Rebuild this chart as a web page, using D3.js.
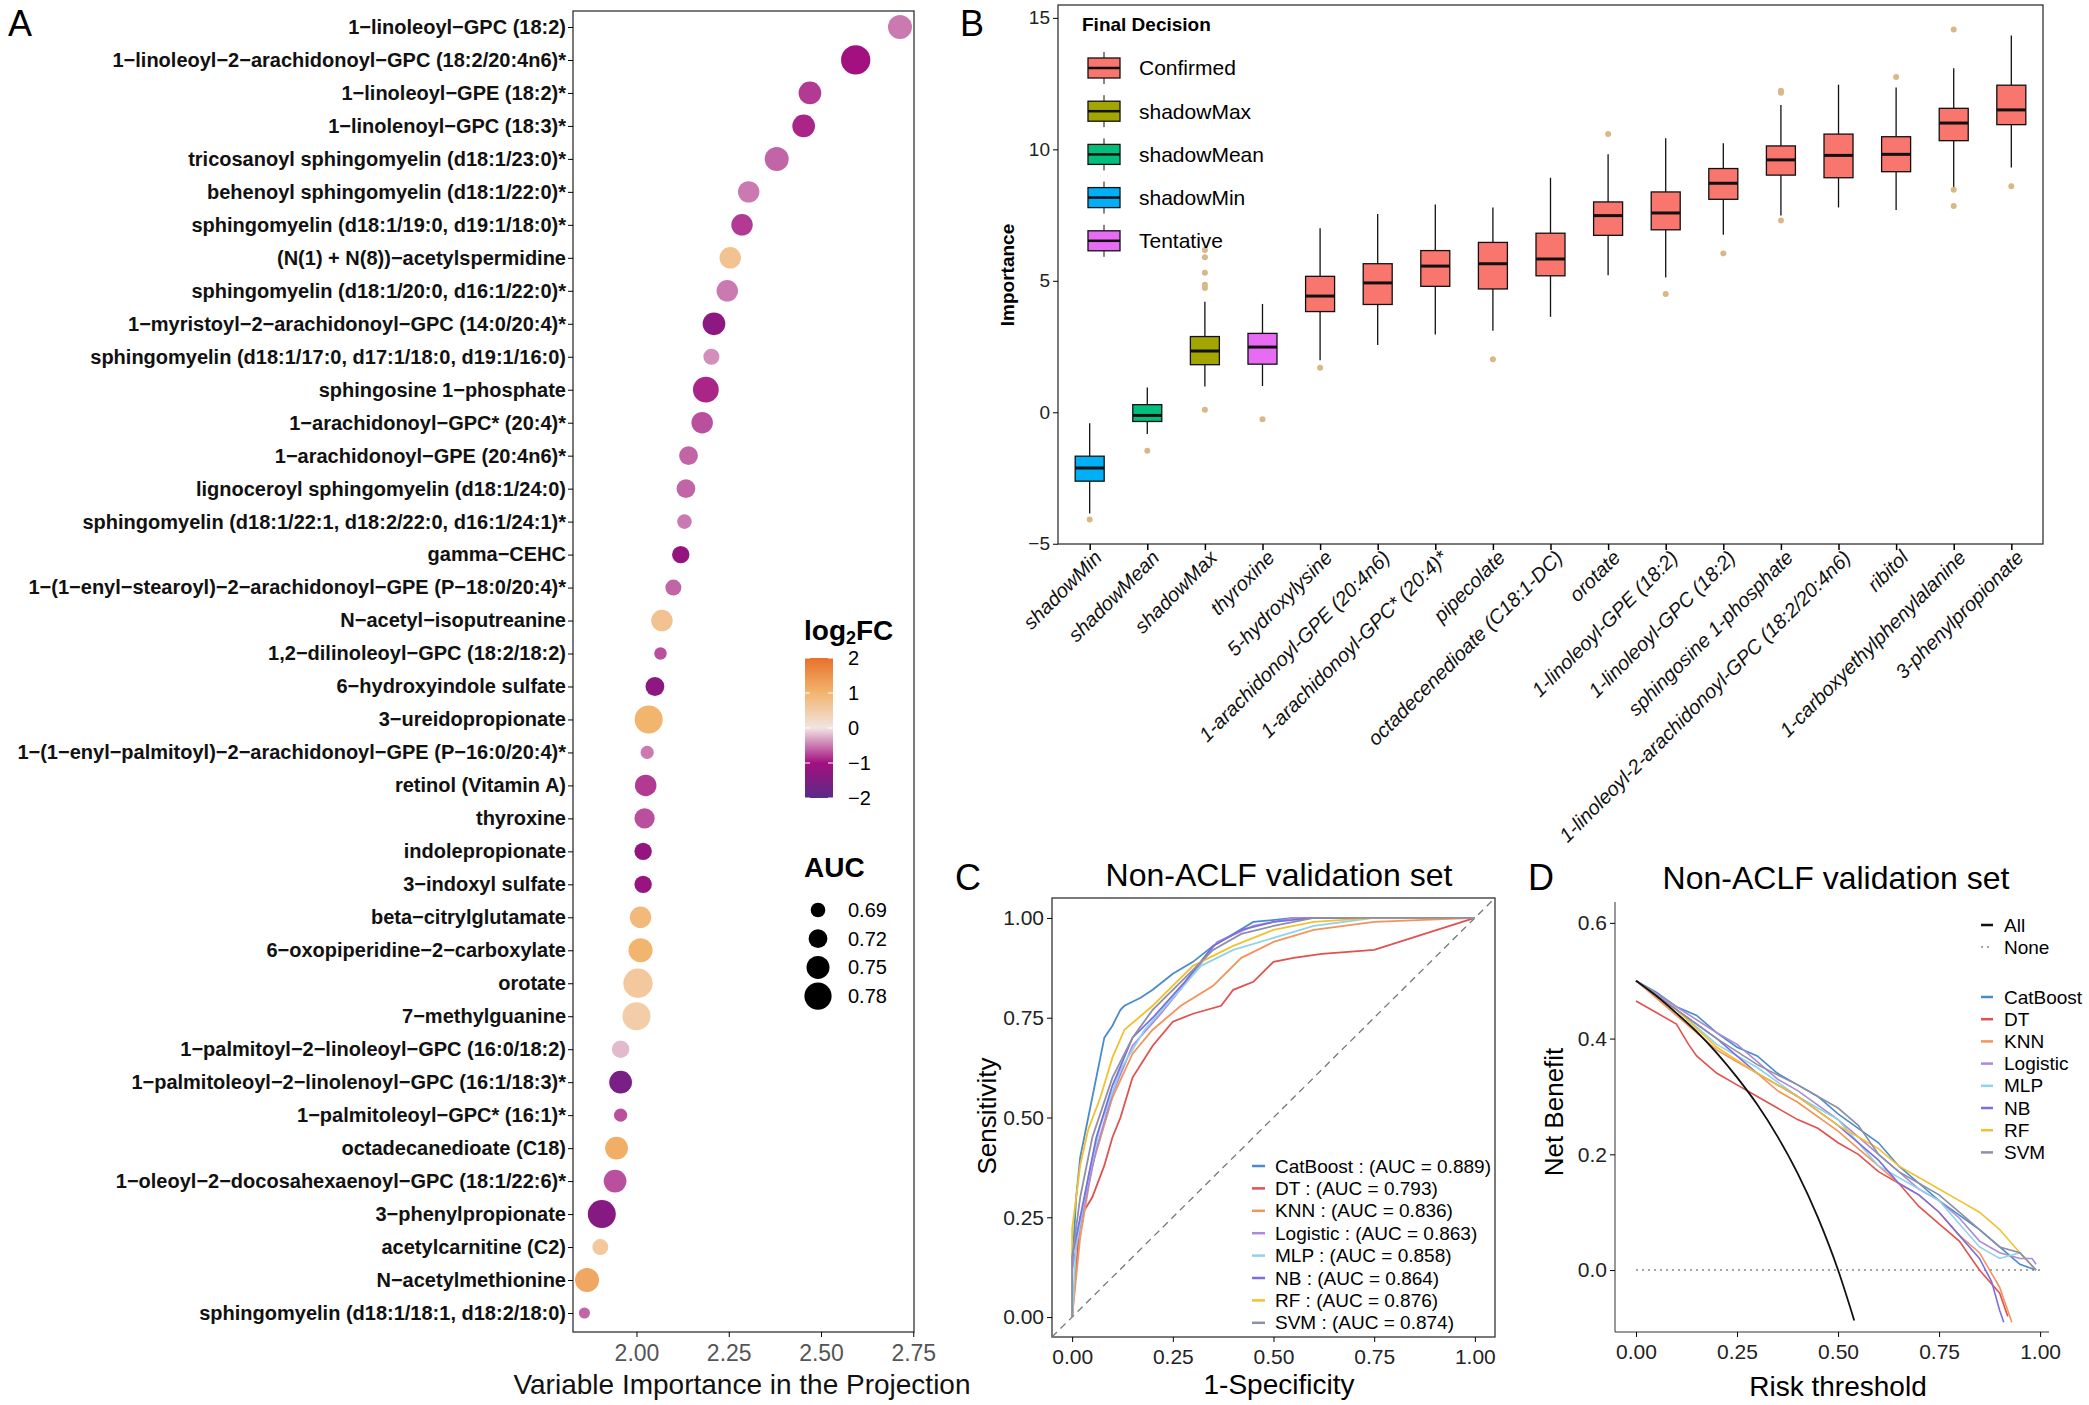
<!DOCTYPE html>
<html><head><meta charset="utf-8">
<script src="https://cdn.jsdelivr.net/npm/d3@7"></script>
<style>body{margin:0;background:#fff}svg{display:block}text{font-family:"Liberation Sans",Arial,sans-serif}</style>
</head><body><svg id="c" width="2089" height="1405"></svg>
<script>
// ---------- Panel A data ----------
const metabolites=["1−linoleoyl−GPC (18:2)","1−linoleoyl−2−arachidonoyl−GPC (18:2/20:4n6)*","1−linoleoyl−GPE (18:2)*","1−linolenoyl−GPC (18:3)*","tricosanoyl sphingomyelin (d18:1/23:0)*","behenoyl sphingomyelin (d18:1/22:0)*","sphingomyelin (d18:1/19:0, d19:1/18:0)*","(N(1) + N(8))−acetylspermidine","sphingomyelin (d18:1/20:0, d16:1/22:0)*","1−myristoyl−2−arachidonoyl−GPC (14:0/20:4)*","sphingomyelin (d18:1/17:0, d17:1/18:0, d19:1/16:0)","sphingosine 1−phosphate","1−arachidonoyl−GPC* (20:4)*","1−arachidonoyl−GPE (20:4n6)*","lignoceroyl sphingomyelin (d18:1/24:0)","sphingomyelin (d18:1/22:1, d18:2/22:0, d16:1/24:1)*","gamma−CEHC","1−(1−enyl−stearoyl)−2−arachidonoyl−GPE (P−18:0/20:4)*","N−acetyl−isoputreanine","1,2−dilinoleoyl−GPC (18:2/18:2)","6−hydroxyindole sulfate","3−ureidopropionate","1−(1−enyl−palmitoyl)−2−arachidonoyl−GPE (P−16:0/20:4)*","retinol (Vitamin A)","thyroxine","indolepropionate","3−indoxyl sulfate","beta−citrylglutamate","6−oxopiperidine−2−carboxylate","orotate","7−methylguanine","1−palmitoyl−2−linoleoyl−GPC (16:0/18:2)","1−palmitoleoyl−2−linolenoyl−GPC (16:1/18:3)*","1−palmitoleoyl−GPC* (16:1)*","octadecanedioate (C18)","1−oleoyl−2−docosahexaenoyl−GPC (18:1/22:6)*","3−phenylpropionate","acetylcarnitine (C2)","N−acetylmethionine","sphingomyelin (d18:1/18:1, d18:2/18:0)"];
const vip=[2.714,2.594,2.47,2.453,2.38,2.304,2.286,2.254,2.246,2.21,2.203,2.188,2.178,2.141,2.134,2.13,2.12,2.10,2.069,2.065,2.05,2.033,2.029,2.025,2.022,2.018,2.018,2.011,2.011,2.004,2.0,1.957,1.957,1.957,1.946,1.942,1.906,1.902,1.866,1.859];
const auc=[0.757,0.795,0.748,0.748,0.757,0.739,0.739,0.739,0.739,0.748,0.70,0.77,0.739,0.72,0.72,0.69,0.71,0.70,0.739,0.675,0.72,0.786,0.68,0.739,0.73,0.71,0.71,0.739,0.757,0.795,0.786,0.71,0.748,0.68,0.748,0.748,0.786,0.70,0.757,0.665];
const log2fc=[-0.5,-1.0,-0.8,-0.9,-0.6,-0.5,-0.8,0.7,-0.5,-1.3,-0.4,-0.9,-0.7,-0.6,-0.6,-0.5,-1.2,-0.6,0.7,-0.7,-1.3,1.0,-0.5,-0.8,-0.7,-1.2,-1.15,0.9,1.0,0.6,0.5,-0.2,-1.6,-0.7,1.1,-0.7,-1.4,0.6,1.2,-0.6];
const vipTicks=[2.00,2.25,2.50,2.75];
const fcTicks=[2,1,0,-1,-2];
const aucTicks=[0.69,0.72,0.75,0.78];
// ---------- Panel B data ----------
const features=["shadowMin","shadowMean","shadowMax","thyroxine","5-hydroxylysine","1-arachidonoyl-GPE (20:4n6)","1-arachidonoyl-GPC* (20:4)*","pipecolate","octadecenedioate (C18:1-DC)","orotate","1-linoleoyl-GPE (18:2)","1-linoleoyl-GPC (18:2)","sphingosine 1-phosphate","1-linoleoyl-2-arachidonoyl-GPC (18:2/20:4n6)","ribitol","1-carboxyethylphenylalanine","3-phenylpropionate"];
const decision=["shadowMin","shadowMean","shadowMax","Tentative","Confirmed","Confirmed","Confirmed","Confirmed","Confirmed","Confirmed","Confirmed","Confirmed","Confirmed","Confirmed","Confirmed","Confirmed","Confirmed"];
const whiskerLow=[-3.85,-0.83,0.98,1.0,1.98,2.56,2.96,3.1,3.63,5.21,5.13,6.75,7.48,7.79,7.69,8.54,9.31];
const q1=[-2.62,-0.35,1.81,1.83,3.83,4.1,4.79,4.69,5.19,6.73,6.94,8.1,9.02,8.92,9.15,10.33,10.94];
const median=[-2.12,-0.12,2.33,2.48,4.42,4.92,5.56,5.65,5.83,7.48,7.58,8.71,9.6,9.77,9.81,11.0,11.5];
const q3=[-1.67,0.29,2.88,3.0,5.17,5.65,6.15,6.46,6.81,8.0,8.38,9.27,10.13,10.58,10.48,11.56,12.44];
const whiskerHigh=[-0.42,0.94,4.2,4.12,7.0,7.54,7.9,7.79,8.92,9.81,10.42,10.23,11.69,12.46,12.35,13.08,14.33];
const outliers=[[-4.08],[-1.46],[6.17,5.9,5.31,4.85,4.73,0.1],[-0.27],[1.69],[],[],[2.02],[],[10.58],[4.5],[6.04],[12.23,12.15,7.29],[],[12.75],[14.56,8.46,7.85],[8.6]];
const decisionLevels=["Confirmed","shadowMax","shadowMean","shadowMin","Tentative"];
const decisionColors=["#F8766D","#A3A500","#00BF7D","#00B0F6","#E76BF3"];
const impTicks=[-5,0,5,10,15];
// ---------- Panel C/D data ----------
const models=["CatBoost","DT","KNN","Logistic","MLP","NB","RF","SVM"];
const modelAUC=["0.889","0.793","0.836","0.863","0.858","0.864","0.876","0.874"];
const modelColors=["#4C8BC9","#E0514F","#F4935A","#A98BD8","#8FD3EB","#7B6FE0","#F2C12E","#8C8FA8"];
const rocFpr=[
[0,0,0.01,0.02,0.03,0.04,0.05,0.07,0.08,0.1,0.12,0.13,0.17,0.2,0.25,0.3,0.35,0.4,0.45,0.55,1],
[0,0.02,0.05,0.08,0.1,0.12,0.15,0.2,0.25,0.3,0.37,0.4,0.45,0.5,0.55,0.62,0.75,1],
[0,0.02,0.05,0.1,0.15,0.2,0.27,0.35,0.42,0.5,0.6,0.75,1],
[0,0,0.03,0.06,0.1,0.15,0.22,0.3,0.36,0.45,0.55,1],
[0,0.01,0.04,0.07,0.12,0.18,0.25,0.32,0.4,0.5,0.6,0.75,1],
[0,0,0.03,0.06,0.1,0.15,0.2,0.28,0.35,0.42,0.5,0.6,1],
[0,0,0.02,0.04,0.07,0.1,0.13,0.2,0.3,0.4,0.5,0.6,0.75,1],
[0,0,0.02,0.05,0.1,0.15,0.2,0.28,0.35,0.42,0.5,0.6,1]];
const rocTpr=[
[0,0.12,0.3,0.4,0.45,0.5,0.55,0.65,0.7,0.73,0.77,0.78,0.8,0.82,0.86,0.89,0.93,0.96,0.99,1,1],
[0,0.25,0.3,0.38,0.45,0.5,0.6,0.68,0.74,0.76,0.78,0.82,0.84,0.89,0.9,0.91,0.92,1],
[0,0.2,0.38,0.55,0.66,0.72,0.78,0.83,0.9,0.94,0.97,0.99,1],
[0,0.12,0.28,0.42,0.56,0.68,0.76,0.86,0.94,0.98,1,1],
[0,0.18,0.35,0.48,0.62,0.72,0.8,0.88,0.92,0.95,0.98,1,1],
[0,0.15,0.3,0.45,0.58,0.7,0.75,0.84,0.93,0.97,0.99,1,1],
[0,0.22,0.38,0.47,0.55,0.65,0.72,0.78,0.88,0.93,0.97,0.99,1,1],
[0,0.15,0.3,0.45,0.6,0.7,0.77,0.85,0.92,0.96,0.98,1,1]];
const dcaT=[
[0,0.05,0.1,0.15,0.2,0.25,0.3,0.35,0.4,0.45,0.5,0.55,0.6,0.65,0.7,0.75,0.8,0.85,0.9,0.95,0.99],
[0,0.05,0.1,0.13,0.15,0.2,0.25,0.3,0.35,0.4,0.45,0.5,0.55,0.6,0.65,0.7,0.75,0.8,0.85,0.9,0.92],
[0,0.1,0.2,0.25,0.3,0.35,0.4,0.5,0.55,0.6,0.65,0.7,0.75,0.8,0.85,0.9,0.93],
[0,0.1,0.2,0.25,0.3,0.35,0.4,0.5,0.55,0.6,0.65,0.7,0.75,0.8,0.85,0.9,0.95,0.98,0.99],
[0,0.1,0.2,0.3,0.4,0.5,0.55,0.6,0.65,0.7,0.75,0.8,0.85,0.9,0.95,0.99],
[0,0.1,0.2,0.3,0.4,0.5,0.6,0.65,0.7,0.75,0.8,0.85,0.88,0.9,0.91],
[0,0.1,0.2,0.3,0.4,0.5,0.55,0.6,0.65,0.7,0.75,0.8,0.85,0.9,0.95,0.99],
[0,0.1,0.2,0.3,0.4,0.5,0.55,0.6,0.65,0.7,0.75,0.8,0.85,0.9,0.95,0.99]];
const dcaNB=[
[0.5,0.48,0.455,0.44,0.41,0.385,0.37,0.34,0.32,0.3,0.27,0.245,0.22,0.18,0.15,0.12,0.095,0.07,0.04,0.01,0.0],
[0.465,0.445,0.425,0.39,0.37,0.34,0.32,0.3,0.28,0.26,0.245,0.22,0.2,0.17,0.15,0.11,0.08,0.05,0.0,-0.04,-0.08],
[0.5,0.44,0.38,0.36,0.34,0.31,0.29,0.24,0.21,0.18,0.15,0.13,0.1,0.06,0.03,-0.03,-0.09],
[0.5,0.455,0.41,0.39,0.36,0.33,0.31,0.26,0.23,0.2,0.17,0.14,0.12,0.09,0.05,0.03,0.02,0.02,0.01],
[0.5,0.45,0.39,0.35,0.3,0.26,0.22,0.18,0.16,0.14,0.12,0.08,0.04,0.02,0.03,0.0],
[0.5,0.45,0.4,0.34,0.3,0.25,0.19,0.15,0.13,0.1,0.06,0.02,-0.02,-0.07,-0.09],
[0.5,0.45,0.385,0.34,0.3,0.25,0.23,0.21,0.18,0.16,0.14,0.12,0.1,0.07,0.03,0.0],
[0.5,0.45,0.4,0.355,0.32,0.28,0.25,0.2,0.17,0.15,0.13,0.1,0.07,0.04,0.03,0.0]];
const allT=[0,0.05,0.1,0.15,0.2,0.25,0.3,0.35,0.4,0.45,0.5,0.54];
const allNB=[0.5,0.474,0.444,0.412,0.375,0.333,0.286,0.231,0.167,0.091,0.0,-0.087];
const unitTicks=[0,0.25,0.5,0.75,1];
const nbTicks=[0,0.2,0.4,0.6];

const svg=d3.select("#c");
const NARROW='"Liberation Sans Narrow","Arial Narrow",sans-serif';
function letter(t,x,y){svg.append("text").attr("x",x).attr("y",y).attr("font-size",36).text(t);}

// ================= Panel A =================
(function(){
 const L=573,R=914,T=11,B=1332;
 const x=d3.scaleLinear().domain([1.828,2.752]).range([L,R]);
 const y=d3.scalePoint().domain(metabolites).range([27,1313]);
 const r=d3.scaleLinear().domain([0.65,0.80]).range([4.5,15]);
 const col=d3.scaleLinear().domain([-2,-1,0,1,2]).range(["#5b2a86","#a3107f","#f1e4e2","#f2b56e","#e8712b"]);
 const g=svg.append("g");
 g.append("rect").attr("x",L).attr("y",T).attr("width",R-L).attr("height",B-T).attr("fill","none").attr("stroke","#333").attr("stroke-width",1.3);
 const ya=g.append("g").attr("transform",`translate(${L},0)`).call(d3.axisLeft(y).tickSize(5).tickPadding(2));
 ya.select(".domain").remove();
 ya.selectAll("text").attr("font-family",NARROW).attr("font-weight","bold").attr("font-size",20).attr("fill","#111");
 const xa=g.append("g").attr("transform",`translate(0,${B})`).call(d3.axisBottom(x).tickValues(vipTicks).tickFormat(d3.format(".2f")).tickSize(5));
 xa.select(".domain").remove();
 xa.selectAll("text").attr("font-family",NARROW).attr("font-size",23).attr("fill","#555").attr("dy","0.9em");
 g.selectAll("circle.p").data(metabolites).join("circle").attr("cx",(d,i)=>x(vip[i])).attr("cy",d=>y(d)).attr("r",(d,i)=>r(auc[i])).attr("fill",(d,i)=>col(log2fc[i]));
 g.append("text").attr("x",742).attr("y",1394).attr("text-anchor","middle").attr("font-family",NARROW).attr("font-size",28).attr("fill","#111").text("Variable Importance in the Projection");
 const lt=g.append("text").attr("x",804).attr("y",640).attr("font-family",NARROW).attr("font-weight","bold").attr("font-size",28);
 lt.append("tspan").text("log");lt.append("tspan").attr("font-size",18).attr("dy",4).text("2");lt.append("tspan").attr("dy",-4).text("FC");
 const cy=d3.scaleLinear().domain([2,-2]).range([658,798]);
 const defs=svg.append("defs");const gr=defs.append("linearGradient").attr("id","fcg").attr("x1",0).attr("x2",0).attr("y1",0).attr("y2",1);
 d3.range(0,1.0001,0.05).forEach(t=>gr.append("stop").attr("offset",t).attr("stop-color",col(2-4*t)));
 g.append("rect").attr("x",805).attr("y",cy(2)).attr("width",28).attr("height",cy(-2)-cy(2)).attr("fill","url(#fcg)");
 fcTicks.forEach(v=>{
  g.append("line").attr("x1",805).attr("x2",810).attr("y1",cy(v)).attr("y2",cy(v)).attr("stroke","#fff");
  g.append("line").attr("x1",828).attr("x2",833).attr("y1",cy(v)).attr("y2",cy(v)).attr("stroke","#fff");
  g.append("text").attr("x",848).attr("y",cy(v)).attr("dy","0.35em").attr("font-family",NARROW).attr("font-size",20).text(v<0?"−"+(-v):v);
 });
 g.append("text").attr("x",804).attr("y",877).attr("font-family",NARROW).attr("font-weight","bold").attr("font-size",28).text("AUC");
 aucTicks.forEach((v,i)=>{const yy=910+i*28.7;
  g.append("circle").attr("cx",818).attr("cy",yy).attr("r",r(v)).attr("fill","#000");
  g.append("text").attr("x",848).attr("y",yy).attr("dy","0.35em").attr("font-family",NARROW).attr("font-size",20).text(v.toFixed(2));
 });
 letter("A",8,36);
})();

// ================= Panel B =================
(function(){
 const L=1058,R=2043,T=5,B=544;
 const x=d3.scalePoint().domain(features).range([L,R]).padding(0.55);
 const y=d3.scaleLinear().domain([-5.01,15.49]).range([B,T]);
 const col=d3.scaleOrdinal().domain(decisionLevels).range(decisionColors);
 const g=svg.append("g");
 g.append("rect").attr("x",L).attr("y",T).attr("width",R-L).attr("height",B-T).attr("fill","none").attr("stroke","#333").attr("stroke-width",1.3);
 const ya=g.append("g").attr("transform",`translate(${L},0)`).call(d3.axisLeft(y).tickValues(impTicks).tickSize(5));
 ya.select(".domain").remove();ya.selectAll("text").attr("font-family",NARROW).attr("font-size",19).attr("fill","#222");
 const xa=g.append("g").attr("transform",`translate(0,${B})`).call(d3.axisBottom(x).tickSize(6));
 xa.select(".domain").remove();xa.selectAll("line").attr("stroke-width",1.5);
 xa.selectAll("text").attr("font-family",NARROW).attr("font-style","italic").attr("font-size",20).attr("fill","#111")
  .attr("text-anchor","end").attr("transform","translate(8,10) rotate(-45)").attr("dy","0.35em").attr("y",0);
 const bw=29;
 features.forEach((f,i)=>{const cx=x(f);
  g.append("line").attr("x1",cx).attr("x2",cx).attr("y1",y(whiskerLow[i])).attr("y2",y(q1[i])).attr("stroke","#111").attr("stroke-width",1.3);
  g.append("line").attr("x1",cx).attr("x2",cx).attr("y1",y(q3[i])).attr("y2",y(whiskerHigh[i])).attr("stroke","#111").attr("stroke-width",1.3);
  g.append("rect").attr("x",cx-bw/2).attr("y",y(q3[i])).attr("width",bw).attr("height",y(q1[i])-y(q3[i])).attr("fill",col(decision[i])).attr("stroke","#111").attr("stroke-width",1.3);
  g.append("line").attr("x1",cx-bw/2).attr("x2",cx+bw/2).attr("y1",y(median[i])).attr("y2",y(median[i])).attr("stroke","#111").attr("stroke-width",3);
  outliers[i].forEach(o=>g.append("circle").attr("cx",cx).attr("cy",y(o)).attr("r",3).attr("fill","#d8b88a"));
 });
 g.append("text").attr("transform","translate(1014,275) rotate(-90)").attr("text-anchor","middle").attr("font-weight","bold").attr("font-size",19).text("Importance");
 g.append("text").attr("x",1082).attr("y",31).attr("font-weight","bold").attr("font-size",19).attr("font-family",NARROW).text("Final Decision");
 decisionLevels.forEach((d,i)=>{const yy=68+i*43.2;
  g.append("line").attr("x1",1104).attr("x2",1104).attr("y1",yy-16).attr("y2",yy+16).attr("stroke","#111");
  g.append("rect").attr("x",1088).attr("y",yy-10).attr("width",32).attr("height",20).attr("fill",decisionColors[i]).attr("stroke","#111").attr("stroke-width",1.3);
  g.append("line").attr("x1",1088).attr("x2",1120).attr("y1",yy).attr("y2",yy).attr("stroke","#111").attr("stroke-width",2.5);
  g.append("text").attr("x",1139).attr("y",yy).attr("dy","0.35em").attr("font-family",NARROW).attr("font-size",21).text(d);
 });
 letter("B",960,36);
})();

// ================= Panel C =================
(function(){
 const L=1052,R=1495,T=898,B=1337;
 const x=d3.scaleLinear().domain([-0.05,1.05]).range([L,R]);
 const y=d3.scaleLinear().domain([-0.05,1.05]).range([B,T]);
 const g=svg.append("g");
 g.append("rect").attr("x",L).attr("y",T).attr("width",R-L).attr("height",B-T).attr("fill","none").attr("stroke","#333").attr("stroke-width",1.3);
 const f=d3.format(".2f");
 const ya=g.append("g").attr("transform",`translate(${L},0)`).call(d3.axisLeft(y).tickValues(unitTicks).tickFormat(f).tickSize(5));
 ya.select(".domain").remove();ya.selectAll("text").attr("font-family",NARROW).attr("font-size",21).attr("fill","#222");
 const xa=g.append("g").attr("transform",`translate(0,${B})`).call(d3.axisBottom(x).tickValues(unitTicks).tickFormat(f).tickSize(5));
 xa.select(".domain").remove();xa.selectAll("text").attr("font-family",NARROW).attr("font-size",21).attr("fill","#222").attr("dy","0.9em");
 g.append("line").attr("x1",x(-0.05)).attr("y1",y(-0.05)).attr("x2",x(1.05)).attr("y2",y(1.05)).attr("stroke","#777").attr("stroke-dasharray","7,5").attr("stroke-width",1.3);
 const line=d3.line().x(d=>x(d[0])).y(d=>y(d[1]));
 models.forEach((m,i)=>g.append("path").datum(rocFpr[i].map((v,j)=>[v,rocTpr[i][j]])).attr("d",line).attr("fill","none").attr("stroke",modelColors[i]).attr("stroke-width",1.8));
 models.forEach((m,i)=>{const yy=1166+i*22.4;
  g.append("line").attr("x1",1252).attr("x2",1265).attr("y1",yy).attr("y2",yy).attr("stroke",modelColors[i]).attr("stroke-width",2.5);
  g.append("text").attr("x",1275).attr("y",yy).attr("dy","0.35em").attr("font-family",NARROW).attr("font-size",19).text(`${m} : (AUC = ${modelAUC[i]})`);
 });
 g.append("text").attr("x",1279).attr("y",886).attr("text-anchor","middle").attr("font-family",NARROW).attr("font-size",32).text("Non-ACLF validation set");
 g.append("text").attr("x",1279).attr("y",1394).attr("text-anchor","middle").attr("font-family",NARROW).attr("font-size",28).text("1-Specificity");
 g.append("text").attr("transform","translate(996,1116) rotate(-90)").attr("text-anchor","middle").attr("font-size",26).text("Sensitivity");
 letter("C",955,890);
})();

// ================= Panel D =================
(function(){
 const L=1615,R=2049,T=902,B=1332;
 const x=d3.scaleLinear().domain([-0.052,1.022]).range([L,R]);
 const y=d3.scaleLinear().domain([-0.107,0.636]).range([B,T]);
 const g=svg.append("g");
 const f2=d3.format(".2f"),f1=d3.format(".1f");
 const ya=g.append("g").attr("transform",`translate(${L},0)`).call(d3.axisLeft(y).tickValues(nbTicks).tickFormat(f1).tickSize(5));
 ya.select(".domain").attr("d",`M0,${T}V${B}`).attr("stroke","#333");ya.selectAll("text").attr("font-family",NARROW).attr("font-size",21).attr("fill","#222");
 const xa=g.append("g").attr("transform",`translate(0,${B})`).call(d3.axisBottom(x).tickValues(unitTicks).tickFormat(f2).tickSize(5));
 xa.select(".domain").attr("d",`M${L},0H${R}`).attr("stroke","#333");xa.selectAll("text").attr("font-family",NARROW).attr("font-size",21).attr("fill","#222").attr("dy","0.9em");
 const line=d3.line().x(d=>x(d[0])).y(d=>y(d[1]));
 g.append("path").datum([[0,0],[1,0]]).attr("d",line).attr("stroke","#888").attr("stroke-dasharray","2,4").attr("stroke-width",1.5);
 models.forEach((m,i)=>g.append("path").datum(dcaT[i].map((v,j)=>[v,dcaNB[i][j]])).attr("d",line).attr("fill","none").attr("stroke",modelColors[i]).attr("stroke-width",1.6));
 g.append("path").datum(allT.map((v,j)=>[v,allNB[j]])).attr("d",line.curve(d3.curveMonotoneX)).attr("fill","none").attr("stroke","#111").attr("stroke-width",1.8);
 g.append("line").attr("x1",1981).attr("x2",1993).attr("y1",925).attr("y2",925).attr("stroke","#111").attr("stroke-width",2.5);
 g.append("text").attr("x",2004).attr("y",925).attr("dy","0.35em").attr("font-family",NARROW).attr("font-size",19).text("All");
 g.append("line").attr("x1",1981).attr("x2",1993).attr("y1",947).attr("y2",947).attr("stroke","#888").attr("stroke-dasharray","2,4").attr("stroke-width",1.5);
 g.append("text").attr("x",2004).attr("y",947).attr("dy","0.35em").attr("font-family",NARROW).attr("font-size",19).text("None");
 models.forEach((m,i)=>{const yy=997+i*22.2;
  g.append("line").attr("x1",1981).attr("x2",1993).attr("y1",yy).attr("y2",yy).attr("stroke",modelColors[i]).attr("stroke-width",2.5);
  g.append("text").attr("x",2004).attr("y",yy).attr("dy","0.35em").attr("font-family",NARROW).attr("font-size",19).text(m);
 });
 g.append("text").attr("x",1836).attr("y",889).attr("text-anchor","middle").attr("font-family",NARROW).attr("font-size",32).text("Non-ACLF validation set");
 g.append("text").attr("x",1838).attr("y",1396).attr("text-anchor","middle").attr("font-family",NARROW).attr("font-size",28).text("Risk threshold");
 g.append("text").attr("transform","translate(1563,1112) rotate(-90)").attr("text-anchor","middle").attr("font-size",26).text("Net Benefit");
 letter("D",1528,890);
})();
</script></body></html>
